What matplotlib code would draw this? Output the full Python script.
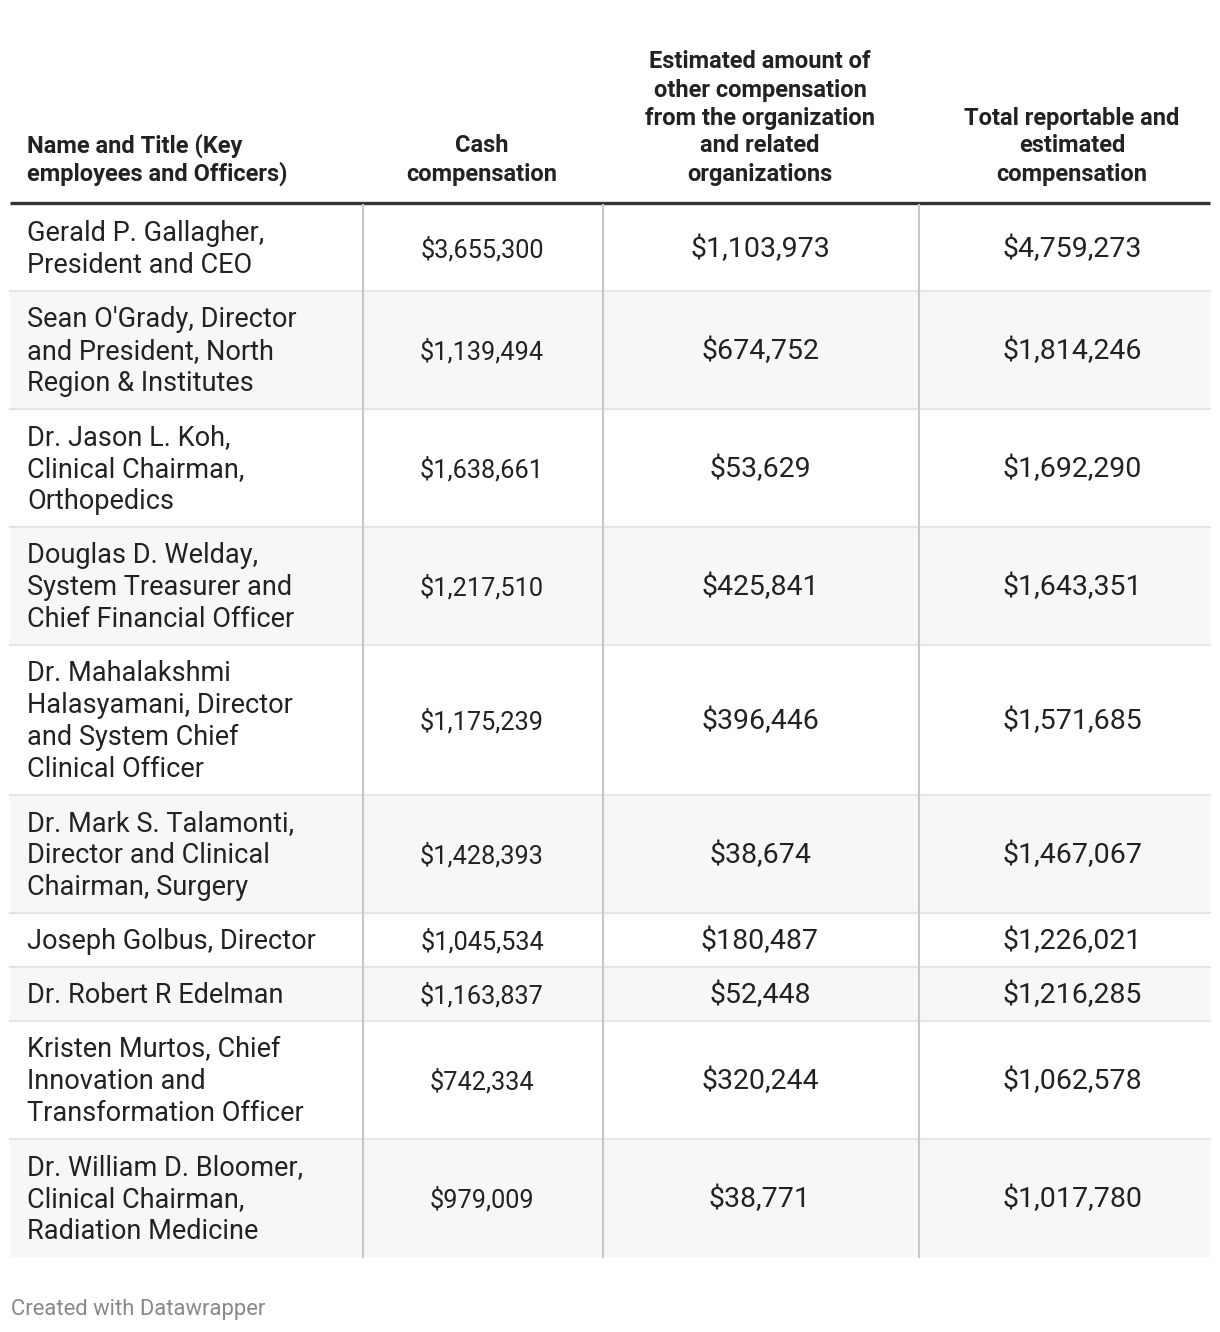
import matplotlib.pyplot as plt
from matplotlib.patches import Rectangle

plt.rcParams['font.family'] = ['Roboto', 'DejaVu Sans']

# table data
names = [
    "Gerald P. Gallagher,\nPresident and CEO",
    "Sean O'Grady, Director\nand President, North\nRegion & Institutes",
    "Dr. Jason L. Koh,\nClinical Chairman,\nOrthopedics",
    "Douglas D. Welday,\nSystem Treasurer and\nChief Financial Officer",
    "Dr. Mahalakshmi\nHalasyamani, Director\nand System Chief\nClinical Officer",
    "Dr. Mark S. Talamonti,\nDirector and Clinical\nChairman, Surgery",
    "Joseph Golbus, Director",
    "Dr. Robert R Edelman",
    "Kristen Murtos, Chief\nInnovation and\nTransformation Officer",
    "Dr. William D. Bloomer,\nClinical Chairman,\nRadiation Medicine",
]
cash = [3655300, 1139494, 1638661, 1217510, 1175239, 1428393, 1045534, 1163837, 742334, 979009]
other = [1103973, 674752, 53629, 425841, 396446, 38674, 180487, 52448, 320244, 38771]
total = [4759273, 1814246, 1692290, 1643351, 1571685, 1467067, 1226021, 1216285, 1062578, 1017780]

headers = [
    "Name and Title (Key\nemployees and Officers)",
    "Cash\ncompensation",
    "Estimated amount of\nother compensation\nfrom the organization\nand related\norganizations",
    "Total reportable and\nestimated\ncompensation",
]

W, H = 1220, 1332
fig = plt.figure(figsize=(W / 100, H / 100), dpi=100)
ax = fig.add_axes([0, 0, 1, 1])
ax.set_xlim(0, W)
ax.set_ylim(H, 0)
ax.axis('off')

left, right = 10, 1210
col_x = [363, 603, 919]
centers = [482, 760, 1072]
line_h = 32
pad = 22
top = 205

# header
head_bottom = 174
for i, h in enumerate(headers):
    lines = h.split("\n")
    for j, ln in enumerate(lines):
        y = head_bottom - (len(lines) - 1 - j) * 28
        if i == 0:
            ax.text(27, y, ln, fontsize=17, fontweight='bold', color='#222222',
                    ha='left', va='center')
        else:
            ax.text(centers[i - 1], y, ln, fontsize=17, fontweight='bold', color='#222222',
                    ha='center', va='center')

ax.plot([left, right], [203, 203], color='#333333', lw=2.4, solid_capstyle='butt')

# rows
y0 = top
for r, name in enumerate(names):
    lines = name.split("\n")
    rh = pad + line_h * len(lines)
    if r % 2 == 1:
        ax.add_patch(Rectangle((left, y0), right - left, rh, color='#f7f7f7', lw=0, zorder=0))
    if r > 0:
        ax.plot([left, right], [y0, y0], color='#e4e4e4', lw=1.5, zorder=1)
    yc = y0 + rh / 2 + 1.5
    for j, ln in enumerate(lines):
        y = yc + (j - (len(lines) - 1) / 2) * line_h
        ax.text(27, y, ln, fontsize=19.5, color='#222222', ha='left', va='center')
    ax.text(centers[0], yc, f"${cash[r]:,}", fontsize=18.2, color='#222222',
            ha='center', va='center')
    ax.text(centers[1], yc, f"${other[r]:,}", fontsize=20.5, color='#222222',
            ha='center', va='center')
    ax.text(centers[2], yc, f"${total[r]:,}", fontsize=20.5, color='#222222',
            ha='center', va='center')
    y0 += rh

for cx in col_x:
    ax.plot([cx, cx], [205, y0], color='#c8c8c8', lw=1.5, zorder=2)

ax.text(11, 1309, "Created with Datawrapper", fontsize=15.8, color='#888888',
        ha='left', va='center')

fig.savefig("out.png", dpi=100)
